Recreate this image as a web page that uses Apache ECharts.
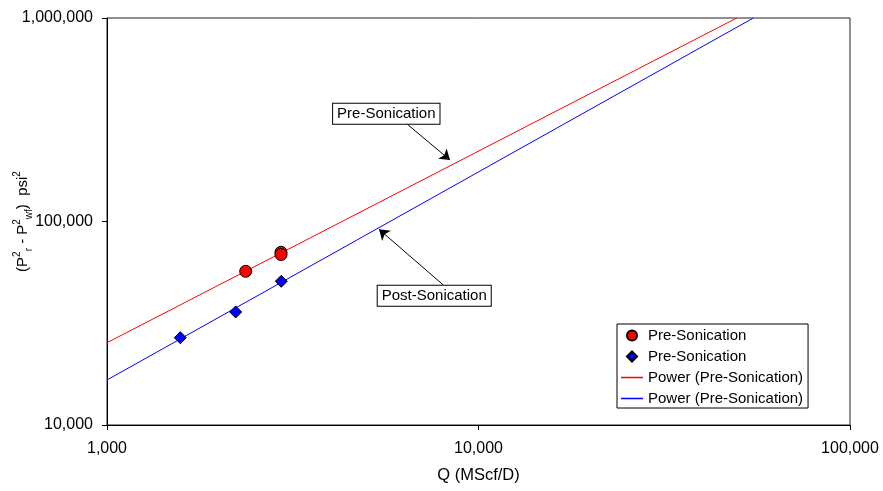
<!DOCTYPE html>
<html>
<head>
<meta charset="utf-8">
<script src="https://cdn.jsdelivr.net/npm/echarts@6/dist/echarts.min.js"></script>
<style>html,body{margin:0;padding:0;background:#fff}#c{width:883px;height:491px}</style>
</head>
<body>
<div id="c"></div>
<script>
// Data
var preQ = [2362, 2940, 2940];
var preP = [56930, 70600, 68800];
var postQ = [1575, 2220, 2945];
var postP = [26850, 35920, 50830];
// Power trendline endpoints (as drawn)
var preFitQ = [1000, 49550];
var preFitP = [25380, 1000000];
var postFitQ = [1000, 54930];
var postFitP = [16640, 1000000];
// Annotations (data coordinates)
var preLabelAt = [5647, 338300];
var preArrowFrom = [6434, 300400];
var preArrowTo = [8381, 200500];
var postLabelAt = [7600, 43150];
var postArrowFrom = [8040, 48750];
var postArrowTo = [5397, 91550];
var xTicks = ['1,000', '10,000', '100,000'];
var yTicks = ['10,000', '100,000', '1,000,000'];

var FONT = 'Liberation Sans, Arial, sans-serif';
var RED = '#ff0000', BLUE = '#0000ff';
function zip(a, b) { return a.map(function (v, i) { return [v, b[i]]; }); }
function fmt(v) { return Math.round(v).toLocaleString('en-US'); }
var ZW = '\u200B';
var LINE_ICON = 'path://M0,0L44,0L44,3L0,3Z';
var DIAMOND_ICON = 'path://M5,0L10,5L5,10L0,5Z';

var chart = echarts.init(document.getElementById('c'), null, { renderer: 'canvas' });
var boxLabel = {
  show: true, position: 'inside', color: '#000', fontFamily: FONT, fontSize: 15,
  backgroundColor: '#fff', borderColor: '#000', borderWidth: 1, padding: [3, 4, 2, 4]
};
var arrowStyle = { color: '#000', width: 1, type: 'solid' };
chart.setOption({
  animation: false,
  textStyle: { fontFamily: FONT },
  grid: { left: 107, right: 33, top: 18, bottom: 66, containLabel: false, outerBoundsMode: 'none',
    show: true, borderColor: '#222', borderWidth: 1, backgroundColor: '#fff' },
  legend: {
    orient: 'vertical', left: 617, top: 324, itemWidth: 22, itemHeight: 10, itemGap: 6,
    symbolKeepAspect: true,
    padding: [4, 5, 2, 4], borderColor: '#000', borderWidth: 1, backgroundColor: '#fff',
    textStyle: { fontFamily: FONT, fontSize: 15, color: '#000' },
    formatter: function (n) { return n.replace(/\u200B/g, ''); },
    data: [
      { name: 'Pre-Sonication', icon: 'circle' },
      { name: 'Pre-Sonication' + ZW, icon: DIAMOND_ICON },
      { name: 'Power (Pre-Sonication)', icon: LINE_ICON, itemStyle: { color: RED, borderWidth: 0, borderColor: RED } },
      { name: 'Power (Pre-Sonication)' + ZW, icon: LINE_ICON, itemStyle: { color: BLUE, borderWidth: 0, borderColor: BLUE } }
    ]
  },
  xAxis: {
    type: 'log', logBase: 10, min: 1000, max: 100000,
    name: 'Q (MScf/D)', nameLocation: 'middle', nameGap: 42, nameMoveOverlap: false,
    nameTextStyle: { fontFamily: FONT, fontSize: 16.5, color: '#000' },
    axisLine: { show: true, lineStyle: { color: '#000', width: 1 } },
    axisTick: { show: true, inside: false, length: 5, lineStyle: { color: '#000' } },
    minorTick: { show: false },
    splitLine: { show: false },
    axisLabel: { color: '#000', fontSize: 16, fontFamily: FONT, margin: 16,
      formatter: function (v) { var s = fmt(v); return xTicks.indexOf(s) >= 0 ? s : ''; } }
  },
  yAxis: {
    type: 'log', logBase: 10, min: 10000, max: 1000000,
    name: '{n|(P}{sup|2}{sub|r}{n| - P}{sup|2}{sub|wf}{n|)  psi}{sup|2}',
    nameLocation: 'middle', nameRotate: 90, nameGap: 73, nameMoveOverlap: false,
    nameTextStyle: {
      color: '#000',
      rich: {
        n: { fontFamily: FONT, fontSize: 15, color: '#000', lineHeight: 22, verticalAlign: 'middle' },
        sup: { fontFamily: FONT, fontSize: 10, color: '#000', lineHeight: 10, verticalAlign: 'top' },
        sub: { fontFamily: FONT, fontSize: 10, color: '#000', lineHeight: 10, verticalAlign: 'bottom' }
      }
    },
    axisLine: { show: true, lineStyle: { color: '#000', width: 1 } },
    axisTick: { show: true, inside: false, length: 5, lineStyle: { color: '#000' } },
    minorTick: { show: false },
    splitLine: { show: false },
    axisLabel: { color: '#000', fontSize: 16, fontFamily: FONT, margin: 14,
      formatter: function (v) { var s = fmt(v); return yTicks.indexOf(s) >= 0 ? s : ''; } }
  },
  series: [
    {
      name: 'Power (Pre-Sonication)', type: 'line', data: zip(preFitQ, preFitP),
      showSymbol: false, symbol: 'none', lineStyle: { color: RED, width: 1 }, itemStyle: { color: RED },
      z: 2,
      markLine: {
        silent: true, symbol: ['none', 'arrow'], symbolSize: 10, lineStyle: arrowStyle,
        label: { show: false },
        data: [[{ coord: preArrowFrom }, { coord: preArrowTo }], [{ coord: postArrowFrom }, { coord: postArrowTo }]]
      },
      markPoint: {
        symbol: 'rect', symbolSize: 0, silent: true,
        data: [
          { coord: preLabelAt, label: Object.assign({ formatter: 'Pre-Sonication' }, boxLabel) },
          { coord: postLabelAt, label: Object.assign({ formatter: 'Post-Sonication' }, boxLabel) }
        ]
      }
    },
    {
      name: 'Power (Pre-Sonication)' + ZW, type: 'line', data: zip(postFitQ, postFitP),
      showSymbol: false, symbol: 'none', lineStyle: { color: BLUE, width: 1 }, itemStyle: { color: BLUE },
      z: 2
    },
    {
      name: 'Pre-Sonication', type: 'scatter', data: zip(preQ, preP), symbol: 'circle', symbolSize: 12,
      itemStyle: { color: RED, borderColor: '#000', borderWidth: 1, opacity: 1 }, z: 3
    },
    {
      name: 'Pre-Sonication' + ZW, type: 'scatter', data: zip(postQ, postP), symbol: 'diamond', symbolSize: 12,
      itemStyle: { color: BLUE, borderColor: '#000', borderWidth: 1, opacity: 1 }, z: 3
    }
  ]
});
</script>
</body>
</html>
